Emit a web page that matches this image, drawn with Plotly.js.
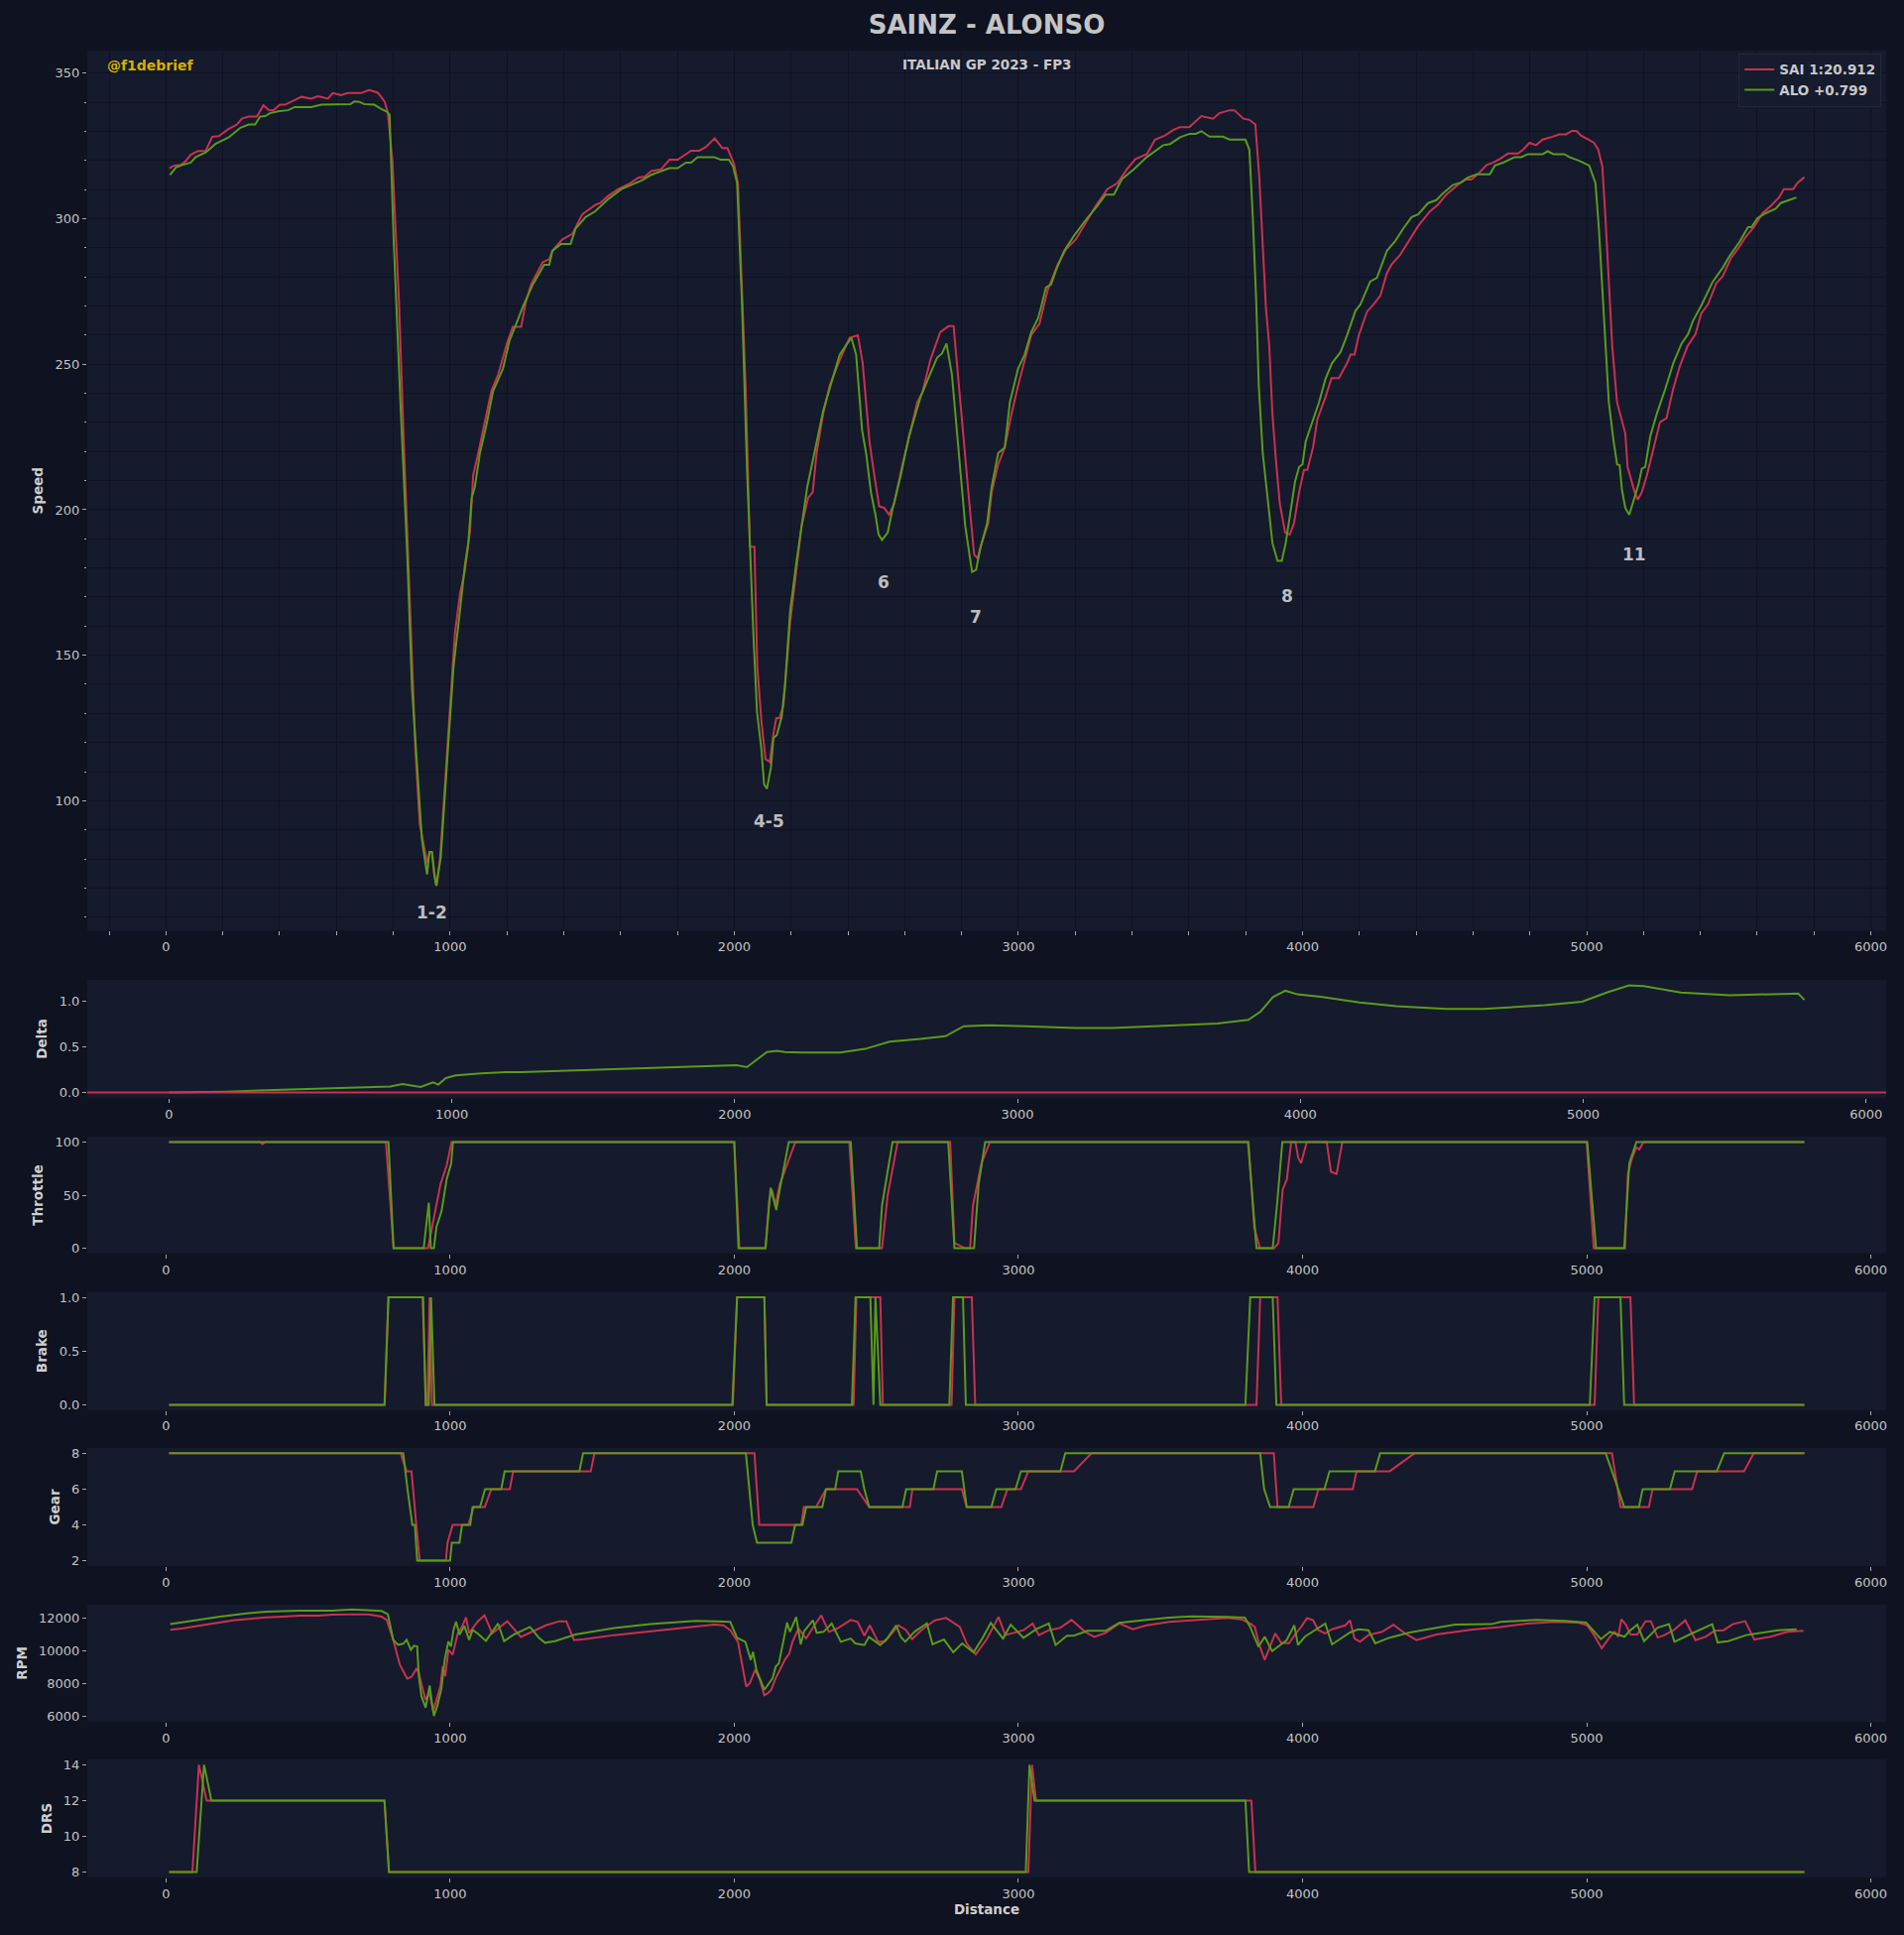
<!DOCTYPE html>
<html>
<head>
<meta charset="utf-8">
<script src="https://cdn.plot.ly/plotly-3.0.1.min.js"></script>
<style>
  html, body { margin: 0; padding: 0; background: #0f1220; }
  #chart { width: 1920px; height: 1951px; }
</style>
</head>
<body>
<div id="chart"></div>
<script>
// ---------------- DATA (distance [m], value) ----------------
const driverSAI = 'SAI 1:20.912';
const driverALO = 'ALO +0.799';

const speedSAI = [[11.6,317.4],[29,318.3],[52,318.5],[70,319.9],[87,322.0],[110,323.2],[140,323.4],[163,328.2],[186,328.4],[221,330.9],[250,332.4],[267,334.4],[291,335.1],[320,335.1],[343,339.0],[363,337.3],[378,337.3],[401,339.2],[419,339.2],[477,341.9],[512,341.3],[535,342.1],[570,341.3],[587,343.2],[616,342.5],[640,343.2],[686,343.2],[715,344.2],[744,343.4],[756,342.1],[770,340.2],[781,336.3],[797,319.9],[820,271.6],[837,223.4],[860,165.5],[878,117.2],[893,92.1],[907,84.4],[919,78.6],[928,82.4],[936,82.4],[948,72.8],[953,70.8],[965,80.5],[983,107.5],[1000,134.6],[1017,157.7],[1035,171.2],[1052,179.0],[1070,192.5],[1081,211.8],[1099,219.5],[1116,227.2],[1145,240.7],[1169,246.5],[1203,258.1],[1221,262.9],[1250,262.9],[1267,271.6],[1285,277.4],[1326,285.1],[1349,286.1],[1360,289.0],[1395,292.9],[1430,294.8],[1465,301.5],[1512,304.8],[1528,305.4],[1557,307.9],[1592,310.2],[1633,312.2],[1662,314.1],[1685,314.5],[1708,316.4],[1743,317.0],[1772,320.3],[1801,320.3],[1848,323.4],[1877,323.4],[1900,324.7],[1931,327.6],[1958,324.3],[1976,324.3],[1999,318.9],[2013,312.2],[2022,290.9],[2040,242.7],[2055,187.3],[2071,187.3],[2081,146.1],[2096,126.8],[2110,114.3],[2125,113.3],[2138,123.0],[2148,128.4],[2159,128.4],[2173,132.6],[2197,161.6],[2220,180.9],[2237,194.4],[2260,204.1],[2276,206.0],[2290,219.5],[2313,233.0],[2336,242.7],[2371,251.4],[2406,259.1],[2435,260.0],[2452,250.4],[2476,223.4],[2493,211.8],[2510,201.2],[2528,200.6],[2545,198.3],[2563,202.1],[2592,215.6],[2621,227.2],[2644,236.9],[2662,240.3],[2690,251.4],[2725,261.0],[2754,263.1],[2772,263.1],[2784,250.4],[2801,233.0],[2824,206.0],[2844,184.7],[2856,183.2],[2871,188.6],[2894,195.4],[2906,206.0],[2929,215.6],[2952,221.4],[2976,233.0],[2999,242.7],[3045,260.0],[3074,263.9],[3103,275.5],[3138,284.2],[3167,289.4],[3202,292.9],[3243,299.6],[3272,304.4],[3313,310.2],[3348,312.2],[3382,317.0],[3412,320.5],[3452,322.2],[3481,327.2],[3516,328.6],[3545,330.5],[3568,331.5],[3601,331.5],[3644,335.3],[3685,334.4],[3708,336.3],[3743,337.3],[3760,337.3],[3792,334.4],[3813,334.0],[3834,332.4],[3848,314.1],[3871,269.7],[3883,256.2],[3894,233.0],[3906,217.6],[3920,202.1],[3939,192.1],[3955,191.5],[3970,195.4],[3988,206.0],[4005,213.7],[4017,213.7],[4037,221.4],[4052,231.0],[4081,238.8],[4102,245.2],[4128,245.2],[4157,250.4],[4169,253.3],[4183,253.3],[4198,260.0],[4227,268.1],[4250,270.6],[4274,273.6],[4297,281.3],[4313,284.2],[4343,287.5],[4378,292.9],[4407,297.5],[4448,302.5],[4476,304.8],[4506,308.3],[4546,311.6],[4575,313.5],[4595,313.5],[4624,316.0],[4648,318.5],[4671,319.3],[4694,320.5],[4723,322.4],[4758,322.4],[4776,323.7],[4799,326.1],[4822,325.3],[4845,327.2],[4880,328.2],[4903,329.0],[4927,329.0],[4950,330.3],[4965,330.1],[4980,328.6],[5002,327.4],[5026,326.1],[5041,323.7],[5055,318.0],[5066,300.6],[5078,277.4],[5090,256.2],[5107,236.9],[5124,231.0],[5136,226.2],[5144,214.7],[5159,209.8],[5169,206.0],[5180,203.5],[5194,206.0],[5212,211.8],[5235,221.0],[5258,230.1],[5281,231.5],[5305,241.7],[5328,249.4],[5355,256.2],[5383,260.4],[5403,267.4],[5427,270.6],[5456,277.8],[5479,280.3],[5508,286.5],[5537,290.3],[5560,293.8],[5590,297.3],[5619,301.9],[5648,304.4],[5677,307.3],[5694,310.2],[5727,310.2],[5741,312.2],[5766,314.3]];

const speedALO = [[14,315.1],[35,317.6],[58,318.5],[87,319.3],[105,321.2],[140,322.8],[174,325.7],[198,327.0],[221,328.0],[262,331.3],[291,332.4],[314,332.4],[331,335.1],[349,335.3],[366,336.3],[395,336.9],[430,337.3],[453,338.4],[512,338.4],[547,339.2],[593,339.4],[649,339.4],[663,340.3],[680,340.2],[698,339.4],[733,339.2],[756,337.8],[779,336.7],[787,335.7],[802,290.9],[826,234.9],[849,184.8],[866,138.4],[884,109.5],[901,86.4],[919,74.7],[927,82.4],[936,82.4],[944,74.7],[951,70.8],[967,80.5],[988,111.4],[1012,146.1],[1035,165.5],[1052,180.9],[1064,188.6],[1076,204.1],[1087,207.9],[1105,219.5],[1128,229.2],[1151,240.7],[1186,248.5],[1209,258.1],[1233,263.9],[1256,269.7],[1291,277.4],[1331,284.2],[1349,284.2],[1360,289.0],[1390,291.3],[1424,291.3],[1442,296.7],[1477,300.6],[1510,302.5],[1557,306.8],[1603,310.2],[1638,311.6],[1673,313.1],[1708,315.1],[1772,317.4],[1801,317.4],[1830,319.3],[1848,319.3],[1871,321.2],[1929,321.2],[1952,320.3],[1981,320.3],[1996,318.0],[2010,312.2],[2027,271.6],[2045,213.7],[2059,175.1],[2068,155.8],[2080,130.7],[2096,117.2],[2105,105.6],[2115,104.1],[2129,111.4],[2138,121.5],[2150,122.6],[2167,128.8],[2179,140.2],[2197,165.5],[2220,182.8],[2244,198.3],[2257,207.9],[2278,217.6],[2313,234.0],[2336,241.7],[2371,253.3],[2394,256.6],[2412,259.1],[2429,253.3],[2450,227.2],[2464,219.5],[2481,206.0],[2497,198.3],[2508,191.5],[2520,189.6],[2540,192.1],[2557,200.2],[2586,211.8],[2615,225.3],[2656,238.8],[2685,245.6],[2714,252.3],[2731,253.7],[2747,257.1],[2766,246.5],[2790,219.5],[2813,194.4],[2837,178.6],[2851,179.3],[2866,186.7],[2890,195.4],[2906,207.9],[2929,219.5],[2952,221.4],[2970,236.9],[2999,248.5],[3022,253.3],[3045,261.0],[3069,265.8],[3080,269.7],[3097,276.4],[3115,277.4],[3132,282.2],[3161,289.0],[3196,294.2],[3237,299.6],[3278,304.4],[3307,308.3],[3336,308.3],[3365,313.7],[3406,317.0],[3452,321.2],[3481,323.4],[3510,325.3],[3534,325.7],[3569,328.0],[3603,329.2],[3624,329.2],[3644,330.1],[3673,328.2],[3720,328.2],[3743,327.2],[3799,327.2],[3813,323.7],[3825,300.6],[3837,271.6],[3846,242.7],[3860,219.5],[3877,204.1],[3894,188.6],[3912,182.4],[3927,182.4],[3941,188.6],[3959,200.2],[3974,209.8],[3988,214.7],[4000,215.6],[4011,223.4],[4037,231.0],[4058,236.9],[4081,245.0],[4104,250.4],[4134,254.2],[4157,260.0],[4186,268.3],[4204,270.6],[4238,278.4],[4262,279.7],[4297,289.0],[4326,292.3],[4355,296.7],[4384,300.6],[4407,301.5],[4442,305.4],[4471,306.4],[4494,308.7],[4529,311.6],[4558,312.5],[4581,314.1],[4613,315.3],[4659,315.3],[4677,318.3],[4706,319.3],[4747,321.2],[4770,321.2],[4793,322.2],[4845,322.2],[4863,323.2],[4883,322.2],[4922,322.2],[4939,321.2],[4974,319.9],[5009,318.3],[5031,312.2],[5043,296.7],[5055,275.5],[5066,256.2],[5078,236.9],[5095,223.4],[5107,215.6],[5116,215.3],[5124,207.0],[5136,200.6],[5150,198.3],[5165,203.1],[5183,208.9],[5194,214.1],[5206,214.7],[5224,225.3],[5247,233.0],[5276,241.3],[5305,250.4],[5334,257.1],[5357,260.4],[5374,264.9],[5403,270.1],[5444,278.4],[5479,283.2],[5502,287.1],[5537,291.9],[5568,297.1],[5580,297.1],[5601,300.2],[5630,301.9],[5665,303.5],[5683,305.4],[5712,306.4],[5738,307.3]];

const deltaALO = [[0,0],[200,0.01],[400,0.03],[600,0.045],[782,0.066],[826,0.095],[889,0.062],[934,0.113],[952,0.088],[979,0.16],[1014,0.19],[1104,0.21],[1193,0.226],[1246,0.225],[1372,0.237],[1551,0.25],[1730,0.266],[1909,0.285],[2007,0.30],[2043,0.28],[2070,0.34],[2114,0.445],[2150,0.46],[2177,0.445],[2242,0.44],[2373,0.44],[2461,0.48],[2548,0.56],[2657,0.59],[2745,0.62],[2810,0.73],[2898,0.74],[3029,0.73],[3204,0.71],[3335,0.71],[3553,0.74],[3706,0.76],[3816,0.80],[3859,0.89],[3903,1.05],[3947,1.12],[3990,1.08],[4078,1.05],[4209,0.99],[4340,0.95],[4515,0.92],[4646,0.92],[4864,0.96],[4996,1.0],[5083,1.1],[5162,1.18],[5214,1.17],[5345,1.1],[5520,1.07],[5695,1.08],[5760,1.09],[5782,1.02]];

const throttleSAI = [[11,100],[330,100],[340,98],[350,100],[774,100],[801,0],[922,0],[943,30],[966,60],[988,78],[1005,100],[2000,100],[2018,0],[2110,0],[2123,45],[2133,55],[2145,40],[2160,60],[2215,100],[2405,100],[2428,0],[2520,0],[2540,50],[2575,100],[2760,100],[2775,5],[2812,0],[2830,0],[2840,40],[2870,80],[2900,100],[3810,100],[3830,20],[3850,0],[3900,0],[3915,5],[3930,55],[3945,65],[3960,100],[3975,100],[3985,85],[3995,80],[4015,100],[4085,100],[4100,72],[4120,70],[4140,100],[5000,100],[5025,0],[5135,0],[5145,70],[5160,85],[5175,95],[5185,93],[5200,100],[5766,100]];
const throttleALO = [[11,100],[783,100],[801,0],[907,0],[925,43],[932,0],[943,0],[952,20],[970,35],[988,65],[1004,80],[1010,100],[2000,100],[2015,0],[2110,0],[2128,57],[2135,50],[2148,36],[2160,55],[2192,100],[2410,100],[2432,0],[2510,0],[2520,40],[2557,100],[2753,100],[2775,0],[2844,0],[2860,60],[2883,100],[3808,100],[3838,0],[3895,0],[3910,40],[3929,100],[5002,100],[5033,0],[5132,0],[5150,80],[5175,100],[5766,100]];

const brakeSAI = [[11,0],[770,0],[783,1],[903,1],[915,0],[920,0],[928,1],[936,0],[1995,0],[2010,1],[2106,1],[2114,0],[2420,0],[2430,1],[2514,1],[2523,0],[2765,0],[2775,1],[2836,1],[2848,0],[3838,0],[3851,1],[3912,1],[3925,0],[5028,0],[5041,1],[5154,1],[5167,0],[5766,0]];
const brakeALO = [[11,0],[769,0],[783,1],[905,1],[914,0],[925,0],[933,1],[945,0],[1993,0],[2010,1],[2106,1],[2114,0],[2414,0],[2427,1],[2479,1],[2490,0],[2497,1],[2514,0],[2757,0],[2770,1],[2805,1],[2815,0],[3799,0],[3816,1],[3895,1],[3908,0],[5011,0],[5028,1],[5119,1],[5132,0],[5766,0]];

const gearSAI = [[11,8],[826,8],[847,7],[864,7],[881,4],[893,2],[985,2],[991,3],[1009,4],[1064,4],[1083,5],[1122,5],[1145,6],[1210,6],[1222,7],[1495,7],[1508,8],[2071,8],[2088,4],[2236,4],[2245,5],[2288,5],[2323,6],[2432,6],[2475,5],[2618,5],[2627,6],[2801,6],[2818,5],[2940,5],[2961,6],[3009,6],[3035,7],[3196,7],[3257,8],[3899,8],[3912,5],[4038,5],[4056,6],[4177,6],[4190,7],[4307,7],[4394,8],[5089,8],[5119,5],[5219,5],[5232,6],[5371,6],[5389,7],[5554,7],[5588,8],[5766,8]];
const gearALO = [[11,8],[835,8],[850,6],[867,4],[876,4],[884,2],[1000,2],[1006,3],[1033,3],[1042,4],[1071,4],[1079,5],[1105,5],[1123,6],[1180,6],[1192,7],[1455,7],[1468,8],[2041,8],[2058,5],[2065,4],[2080,3],[2201,3],[2214,4],[2240,4],[2253,5],[2310,5],[2323,6],[2355,6],[2366,7],[2445,7],[2458,6],[2475,5],[2592,5],[2605,6],[2701,6],[2714,7],[2801,7],[2810,6],[2818,5],[2905,5],[2922,6],[2990,6],[3009,7],[3148,7],[3165,8],[3851,8],[3865,6],[3886,5],[3951,5],[3969,6],[4077,6],[4095,7],[4255,7],[4273,8],[5067,8],[5111,6],[5132,5],[5184,5],[5197,6],[5293,6],[5310,7],[5458,7],[5484,8],[5766,8]];

const rpmSAI = [[15,11290],[56,11370],[120,11550],[178,11700],[236,11880],[294,11960],[352,12060],[410,12100],[469,12160],[538,12160],[585,12220],[643,12240],[713,12240],[759,12100],[777,11900],[800,10680],[823,9160],[849,8310],[864,8410],[881,8900],[890,8650],[901,7840],[913,7030],[928,7400],[940,6320],[951,6930],[966,7840],[974,9060],[983,8450],[994,10070],[1009,9770],[1027,11090],[1042,11490],[1056,12060],[1067,11090],[1097,11800],[1121,12180],[1148,11070],[1201,11820],[1249,10860],[1337,11570],[1385,11820],[1409,11820],[1436,10660],[1473,10720],[1577,10970],[1737,11270],[1865,11470],[1930,11610],[1962,11570],[1986,11270],[2013,10560],[2042,7820],[2055,8030],[2074,8840],[2090,8230],[2106,7280],[2119,7420],[2130,7620],[2146,8330],[2178,9450],[2194,9850],[2205,10560],[2226,11370],[2242,10970],[2253,10760],[2282,11570],[2306,12180],[2333,11170],[2362,11370],[2410,11900],[2434,11780],[2458,10930],[2477,11570],[2506,10560],[2530,10560],[2578,11570],[2605,11270],[2626,10720],[2658,11270],[2706,11880],[2746,12020],[2794,11470],[2818,10460],[2850,9790],[2890,10760],[2930,12080],[2954,10970],[3018,11270],[3050,11680],[3072,10970],[3107,11270],[3147,11410],[3187,11900],[3235,11170],[3267,10860],[3307,11110],[3355,11680],[3403,11330],[3451,11570],[3531,11780],[3608,11860],[3639,11880],[3736,12020],[3784,11940],[3816,11680],[3832,11470],[3848,10360],[3867,9450],[3904,11070],[3925,10500],[3952,10460],[3976,11070],[3995,11470],[4016,12020],[4037,11880],[4056,11270],[4080,11070],[4104,11330],[4128,11470],[4151,11570],[4167,11880],[4183,10760],[4202,10560],[4232,10970],[4280,11170],[4320,11610],[4361,11070],[4401,10660],[4471,11010],[4599,11310],[4697,11470],[4792,11680],[4888,11780],[4970,11740],[5002,11570],[5026,10970],[5053,10160],[5082,10870],[5098,11170],[5111,10870],[5122,11940],[5138,11610],[5154,11010],[5178,11010],[5207,11820],[5226,11820],[5250,10820],[5274,10970],[5306,11270],[5347,11880],[5383,10660],[5418,10860],[5450,11230],[5482,11270],[5514,11640],[5558,11820],[5590,10700],[5643,10860],[5707,11170],[5763,11230]];
const rpmALO = [[15,11640],[73,11800],[131,11940],[190,12100],[283,12300],[352,12400],[469,12470],[585,12470],[655,12550],[701,12490],[759,12450],[781,12240],[800,10680],[817,10380],[835,10440],[847,10680],[862,10070],[873,10320],[884,10270],[890,8450],[899,7230],[914,6520],[928,7880],[936,6830],[943,6020],[955,6630],[969,7640],[981,9470],[994,10580],[1003,10270],[1012,11290],[1021,11800],[1033,10990],[1050,11530],[1067,10680],[1079,11290],[1097,11070],[1126,10620],[1169,11680],[1190,10600],[1225,11010],[1281,11470],[1313,10800],[1334,10500],[1369,10600],[1441,11010],[1577,11410],[1705,11640],[1865,11840],[1930,11820],[1986,11780],[2010,10800],[2039,10560],[2058,9450],[2066,9950],[2078,8840],[2106,7620],[2135,8330],[2146,9040],[2157,9240],[2186,11740],[2196,11170],[2218,12080],[2234,10400],[2246,11210],[2277,11880],[2290,11110],[2314,11170],[2343,11680],[2375,10560],[2410,10760],[2426,10460],[2458,10360],[2474,10860],[2514,10360],[2538,10760],[2570,11570],[2586,10860],[2602,10560],[2634,11170],[2678,11680],[2698,10400],[2738,10700],[2771,9910],[2802,10460],[2842,9910],[2874,10800],[2903,11720],[2946,10760],[2973,11610],[3018,10800],[3063,11330],[3107,11680],[3131,10360],[3171,10930],[3195,10930],[3243,11230],[3307,11230],[3355,11720],[3451,11900],[3531,12040],[3608,12120],[3639,12120],[3736,12080],[3797,12040],[3816,11470],[3845,10260],[3867,10870],[3893,9990],[3944,10660],[3971,11570],[3984,10360],[4008,10870],[4080,11680],[4104,10400],[4167,11130],[4196,11330],[4232,11270],[4256,10460],[4304,10800],[4377,11130],[4457,11370],[4537,11610],[4665,11640],[4697,11780],[4825,11900],[4921,11840],[4998,11740],[5050,10720],[5082,11170],[5114,11010],[5133,10870],[5154,11270],[5178,11610],[5202,10600],[5250,11430],[5290,11640],[5309,10560],[5370,11070],[5442,11640],[5461,10520],[5498,10600],[5562,10970],[5619,11130],[5675,11270],[5739,11330]];

const drsSAI = [[11,8],[93,8],[116,14],[143,12],[769,12],[785,8],[3035,8],[3048,14],[3062,12],[3820,12],[3834,8],[5766,8]];
const drsALO = [[11,8],[108,8],[134,14],[160,12],[769,12],[785,8],[3026,8],[3039,14],[3057,12],[3799,12],[3812,8],[5766,8]];

const cornerNames = ['1-2','4-5','6','7','8','11'];
const cornerDist  = [937, 2122, 2524, 2850, 3945, 5169];
const cornerSpeed = [61.6, 93.0, 175.1, 163.1, 170.3, 184.7];

const channelNames = ['Speed','Delta','Throttle','Brake','Gear','RPM','DRS'];
const xTickVals = [0,1000,2000,3000,4000,5000,6000];

// ---------------- STYLE ----------------
const SAI_COLOR = '#c8324f';
const ALO_COLOR = '#5b9a1c';
const PAPER = '#0f1220';
const PLOT = '#151a2c';
const GRID = '#0f1220';
const TICKC = '#c3c3c3';
const FONT = 'DejaVu Sans';

const xs = a => a.map(p => p[0]);
const ys = a => a.map(p => p[1]);

function line(data, name, color, ax, show) {
  return {
    x: xs(data), y: ys(data), type: 'scatter', mode: 'lines', name: name,
    line: { color: color, width: 2 }, xaxis: 'x' + ax, yaxis: 'y' + ax,
    showlegend: !!show, hoverinfo: 'skip'
  };
}

const traces = [
  line(speedSAI, driverSAI, SAI_COLOR, '', true),
  line(speedALO, driverALO, ALO_COLOR, '', true),
  line(deltaALO, driverALO, ALO_COLOR, 2),
  line(throttleSAI, driverSAI, SAI_COLOR, 3),
  line(throttleALO, driverALO, ALO_COLOR, 3),
  line(brakeSAI, driverSAI, SAI_COLOR, 4),
  line(brakeALO, driverALO, ALO_COLOR, 4),
  line(gearSAI, driverSAI, SAI_COLOR, 5),
  line(gearALO, driverALO, ALO_COLOR, 5),
  line(rpmSAI, driverSAI, SAI_COLOR, 6),
  line(rpmALO, driverALO, ALO_COLOR, 6),
  line(drsSAI, driverSAI, SAI_COLOR, 7),
  line(drsALO, driverALO, ALO_COLOR, 7)
];

// subplot vertical domains (paper fraction)
const domains = [
  [0.5182, 1.0], [0.4267, 0.4913], [0.3415, 0.4055], [0.2558, 0.3205],
  [0.1705, 0.2351], [0.0852, 0.1495], [0.0, 0.0646]
];
const xRanges = [[-277,6054],[-289,6071],[-277,6054],[-277,6054],[-277,6054],[-277,6054],[-277,6054]];
const yRanges = [[55.3,357.8],[-0.059,1.239],[-5,105],[-0.05,1.05],[1.7,8.3],[5655,12855],[7.7,14.3]];
const yTicks = [[100,150,200,250,300,350],[0,0.5,1.0],[0,50,100],[0,0.5,1.0],[2,4,6,8],[6000,8000,10000,12000],[8,10,12,14]];
const yFormats = ['d','.1f','d','.1f','d','d','d'];

const layout = {
  width: 1920, height: 1951,
  margin: { l: 88, r: 18, t: 51, b: 58 },
  paper_bgcolor: PAPER, plot_bgcolor: PLOT,
  font: { family: FONT, color: TICKC, size: 13 },
  title: {
    text: '<b>SAINZ - ALONSO</b>',
    font: { family: FONT, size: 26, color: '#c4c4c4' },
    xref: 'paper', x: 0.5, xanchor: 'center',
    yref: 'container', y: 1 - 25 / 1951, yanchor: 'middle'
  },
  showlegend: true,
  legend: {
    x: 0.9974, xanchor: 'right', y: 0.9985, yanchor: 'top',
    bgcolor: 'rgba(22,27,45,0.95)', bordercolor: '#22273a', borderwidth: 1,
    font: { family: FONT, size: 13.5, color: '#c8c8c8', weight: 'bold' },
    tracegroupgap: 0, itemwidth: 30
  },
  annotations: [],
  shapes: [{
    type: 'line', xref: 'x2 domain', yref: 'y2', x0: 0, x1: 1, y0: 0, y1: 0,
    line: { color: SAI_COLOR, width: 2 }, layer: 'above'
  }]
};

for (let i = 0; i < 7; i++) {
  const n = i === 0 ? '' : String(i + 1);
  const xa = {
    anchor: 'y' + n, range: xRanges[i], domain: [0, 1],
    tickmode: 'array', tickvals: xTickVals, tickformat: 'd',
    ticks: 'outside', ticklen: 4, tickwidth: 1, tickcolor: '#a8a8a8',
    tickfont: { family: FONT, size: 13, color: TICKC },
    showgrid: false, zeroline: false, showline: false, fixedrange: true
  };
  const ya = {
    anchor: 'x' + n, domain: domains[i], range: yRanges[i],
    tickmode: 'array', tickvals: yTicks[i], tickformat: yFormats[i],
    ticks: 'outside', ticklen: 4, tickwidth: 1, tickcolor: '#a8a8a8',
    tickfont: { family: FONT, size: 13, color: TICKC },
    showgrid: false, zeroline: false, showline: false, fixedrange: true,
    title: { text: '<b>' + channelNames[i] + '</b>', font: { family: FONT, size: 13.5, color: '#cfcfcf' }, standoff: 8 }
  };
  if (i === 0) {
    xa.tickmode = 'linear'; xa.tick0 = 0; xa.dtick = 1000;
    delete xa.tickvals;
    xa.showgrid = true; xa.gridcolor = GRID; xa.gridwidth = 1;
    xa.minor = { dtick: 200, tick0: 0, ticks: 'outside', ticklen: 4, tickcolor: '#a8a8a8', showgrid: true, gridcolor: GRID, gridwidth: 1 };
    ya.tickmode = 'linear'; ya.tick0 = 0; ya.dtick = 50;
    delete ya.tickvals;
    ya.showgrid = true; ya.gridcolor = GRID; ya.gridwidth = 1;
    ya.minor = { dtick: 10, tick0: 0, ticks: 'outside', ticklen: 2.5, tickcolor: '#a8a8a8', showgrid: true, gridcolor: GRID, gridwidth: 1 };
  }
  if (i === 6) {
    xa.title = { text: '<b>Distance</b>', font: { family: FONT, size: 13.5, color: '#cfcfcf' }, standoff: 4 };
  }
  layout['xaxis' + n] = xa;
  layout['yaxis' + n] = ya;
}

// subtitle + watermark
layout.annotations.push({
  text: '<b>ITALIAN GP 2023 - FP3</b>', xref: 'paper', yref: 'paper',
  x: 0.5, y: 0.9924, xanchor: 'center', yanchor: 'middle', showarrow: false,
  font: { family: FONT, size: 13.5, color: '#c8c8c8' }
});
layout.annotations.push({
  text: '<b>@f1debrief</b>', xref: 'paper', yref: 'paper',
  x: 0.0101, y: 0.9919, xanchor: 'left', yanchor: 'middle', showarrow: false,
  font: { family: FONT, size: 14, color: '#d4b000' }
});
// corner labels
cornerNames.forEach((c, k) => {
  layout.annotations.push({
    text: '<b>' + c + '</b>', xref: 'x', yref: 'y', x: cornerDist[k], y: cornerSpeed[k],
    xanchor: 'center', yanchor: 'middle', showarrow: false,
    font: { family: FONT, size: 17, color: '#bdbdbd' }
  });
});

Plotly.newPlot('chart', traces, layout, { staticPlot: true, displayModeBar: false });
</script>
</body>
</html>
